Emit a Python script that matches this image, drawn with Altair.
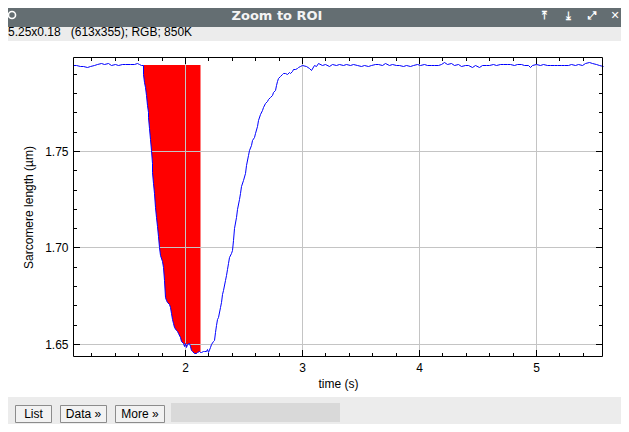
import altair as alt
import pandas as pd

# ---------------- data ----------------
pre_t = [1.043, 1.07, 1.10, 1.13, 1.16, 1.19, 1.22, 1.25, 1.28, 1.31, 1.34, 1.37,
         1.40, 1.43, 1.46, 1.49, 1.53, 1.56, 1.59, 1.61, 1.625]
pre_y = [1.7943, 1.7945, 1.7941, 1.7938, 1.7934, 1.7939, 1.7946, 1.7951, 1.7955, 1.7952,
         1.7954, 1.7948, 1.7950, 1.7945, 1.7952, 1.7949, 1.7953, 1.7950, 1.7954, 1.7951, 1.7948]

dip_t = [1.638, 1.645, 1.652, 1.658, 1.666, 1.672, 1.680, 1.686, 1.693, 1.700, 1.707,
         1.715, 1.722, 1.729, 1.737, 1.744, 1.752, 1.760, 1.768, 1.780, 1.790, 1.800,
         1.809, 1.818, 1.826, 1.835, 1.850, 1.865, 1.872, 1.880, 1.888, 1.895, 1.905,
         1.920, 1.932, 1.943, 1.955, 1.968, 1.980, 1.990, 2.000, 2.009, 2.020, 2.030,
         2.040, 2.050, 2.060, 2.075, 2.090, 2.105, 2.120, 2.128, 2.135, 2.150, 2.165,
         2.180, 2.190, 2.200, 2.214, 2.225, 2.236, 2.248, 2.258, 2.268, 2.277, 2.285,
         2.295, 2.305, 2.316, 2.327, 2.338, 2.350, 2.360, 2.370, 2.380, 2.390, 2.399,
         2.410, 2.422, 2.436, 2.447, 2.458, 2.470, 2.481, 2.497, 2.513, 2.525, 2.537,
         2.550, 2.562, 2.575, 2.586, 2.598, 2.612, 2.627, 2.642, 2.656, 2.670, 2.685,
         2.700, 2.713, 2.726, 2.740, 2.755, 2.769, 2.780, 2.790, 2.798, 2.810, 2.825,
         2.840, 2.855, 2.870, 2.885, 2.897, 2.912, 2.925, 2.940, 2.955, 2.970, 2.985, 2.997]
dip_y = [1.7946, 1.7900, 1.7855, 1.7833, 1.7790, 1.7740, 1.7700, 1.7678, 1.7620, 1.7560, 1.7505,
         1.7440, 1.7390, 1.7333, 1.7280, 1.7210, 1.7160, 1.7110, 1.7060, 1.7004, 1.6960, 1.6930,
         1.6900, 1.6830, 1.6745, 1.6730, 1.6715, 1.6705, 1.6693, 1.6660, 1.6630, 1.6607, 1.6590,
         1.6575, 1.6565, 1.6555, 1.6535, 1.6515, 1.6503, 1.6490, 1.6505, 1.6486, 1.6500, 1.6505,
         1.6490, 1.6470, 1.6465, 1.6455, 1.6452, 1.6458, 1.6462, 1.6460, 1.6460, 1.6464, 1.6462,
         1.6465, 1.6475, 1.6460, 1.6486, 1.6500, 1.6515, 1.6520, 1.6560, 1.6600, 1.6630, 1.6640,
         1.6690, 1.6720, 1.6760, 1.6780, 1.6830, 1.6860, 1.6890, 1.6918, 1.6950, 1.6970, 1.6987,
         1.7040, 1.7100, 1.7160, 1.7200, 1.7250, 1.7280, 1.7320, 1.7350, 1.7384, 1.7430, 1.7480,
         1.7505, 1.7530, 1.7555, 1.7575, 1.7592, 1.7630, 1.7660, 1.7690, 1.7710, 1.7730, 1.7750,
         1.7760, 1.7770, 1.7781, 1.7790, 1.7805, 1.7816, 1.7840, 1.7865, 1.7877, 1.7890, 1.7900,
         1.7906, 1.7902, 1.7898, 1.7910, 1.7903, 1.7915, 1.7925, 1.7923, 1.7930, 1.7935, 1.7938, 1.7945]

post_t = [3.03, 3.06, 3.08, 3.10, 3.12, 3.14, 3.17, 3.20, 3.23, 3.26, 3.29, 3.32, 3.35,
          3.38, 3.41, 3.44, 3.47, 3.50, 3.53, 3.56, 3.59, 3.62, 3.65, 3.68, 3.71, 3.74,
          3.77, 3.80, 3.83, 3.86, 3.89, 3.92, 3.95, 3.98, 4.01, 4.04, 4.07, 4.10, 4.13,
          4.16, 4.19, 4.21, 4.24, 4.27, 4.30, 4.33, 4.36, 4.39, 4.42, 4.45, 4.48, 4.51,
          4.54, 4.57, 4.60, 4.63, 4.66, 4.69, 4.72, 4.75, 4.78, 4.81, 4.84, 4.87, 4.90,
          4.93, 4.95, 4.97, 5.00, 5.03, 5.06, 5.09, 5.12, 5.15, 5.18, 5.21, 5.24, 5.27,
          5.30, 5.33, 5.36, 5.39, 5.42, 5.45, 5.48, 5.51, 5.54, 5.57]
post_y = [1.7938, 1.7930, 1.7921, 1.7947, 1.7940, 1.7957, 1.7944, 1.7952, 1.7940, 1.7950,
          1.7946, 1.7953, 1.7944, 1.7949, 1.7947, 1.7950, 1.7948, 1.7942, 1.7946, 1.7940,
          1.7947, 1.7950, 1.7952, 1.7944, 1.7955, 1.7947, 1.7949, 1.7943, 1.7946, 1.7941,
          1.7945, 1.7939, 1.7946, 1.7951, 1.7947, 1.7950, 1.7944, 1.7948, 1.7943, 1.7947,
          1.7952, 1.7962, 1.7953, 1.7955, 1.7946, 1.7950, 1.7942, 1.7947, 1.7944, 1.7937,
          1.7946, 1.7935, 1.7945, 1.7948, 1.7944, 1.7950, 1.7946, 1.7952, 1.7949, 1.7953,
          1.7950, 1.7948, 1.7952, 1.7950, 1.7944, 1.7946, 1.7934, 1.7948, 1.7951, 1.7947,
          1.7949, 1.7946, 1.7947, 1.7945, 1.7946, 1.7944, 1.7948, 1.7946, 1.7951, 1.7947,
          1.7952, 1.7948, 1.7954, 1.7960, 1.7956, 1.7950, 1.7946, 1.7940]

fill_start, fill_end, fill_base = 1.638, 2.128, 1.7946

x_major = [2, 3, 4, 5]
x_minor = [1.2, 1.4, 1.6, 1.8, 2.2, 2.4, 2.6, 2.8, 3.2, 3.4, 3.6, 3.8,
           4.2, 4.4, 4.6, 4.8, 5.2, 5.4]
y_major = [1.65, 1.70, 1.75]
y_minor = [1.66, 1.67, 1.68, 1.69, 1.71, 1.72, 1.73, 1.74, 1.76, 1.77, 1.78, 1.79]

window_title = "Zoom to ROI"
info_text = "5.25x0.18\u00a0\u00a0 (613x355); RGB; 850K"
button_labels = ["List", "Data \u00bb", "More \u00bb"]
x_title = "time (s)"
y_title = "Sarcomere length (\u00b5m)"

# ---------------- chart ----------------
W, H = 530, 300
FONT = "Liberation Sans"
xs = alt.Scale(domain=[1.0427, 5.5726], nice=False, zero=False, round=True)
ys = alt.Scale(domain=[1.64326, 1.79870], nice=False, zero=False, round=True)

axis_common = dict(grid=False, ticks=False, tickSize=0, domain=False,
                   labelFont=FONT, labelFontSize=12, labelColor="black",
                   titleFont=FONT, titleFontSize=12, titleFontWeight="normal",
                   titleColor="black")
xa = alt.Axis(values=x_major, format="d", title=x_title, labelPadding=5,
              titlePadding=5, **axis_common)
ya = alt.Axis(values=y_major, format=".2f", title=y_title, labelPadding=5,
              titlePadding=9, **axis_common)


def X():
    return alt.X("t:Q", scale=xs, axis=xa)


def Y():
    return alt.Y("L:Q", scale=ys, axis=ya)


df = pd.DataFrame({"t": pre_t + dip_t + post_t, "L": pre_y + dip_y + post_y})
one = pd.DataFrame({"k": [0]})


def box(x, x2, y, y2, **mk):
    return alt.Chart(one).mark_rect(**mk).encode(
        x=alt.value(x), x2=alt.value(x2), y=alt.value(y), y2=alt.value(y2))


def label(x, y, text, **mk):
    return alt.Chart(one).mark_text(**mk).encode(
        x=alt.value(x), y=alt.value(y), text=alt.value(text))


icon_style = dict(font="DejaVu Sans", fontWeight="bold", fontSize=11,
                  color="white", align="center", baseline="middle")

# window chrome
chrome = [
    box(-65, 548, -49, -30, color="#646e72"),
    box(-65, 548, -30, -16, color="#ececec"),
    box(-65, 548, 340, 367, color="#ececec"),
    label(204, -41, window_title, font="DejaVu Sans", fontWeight="bold",
          fontSize=13, color="#f4f4f4", align="center", baseline="middle"),
    alt.Chart(one).mark_point(shape="circle", filled=False, size=50, color="white",
                              strokeWidth=1.6, opacity=1).encode(
        x=alt.value(-61), y=alt.value(-42)),
    label(471, -41, "\u2912", **icon_style),
    label(495, -41, "\u2913", **icon_style),
    label(519, -41, "\u2922", **icon_style),
    label(542, -41, "\u2715", **icon_style),
    label(-65, -21, info_text, font=FONT, fontSize=12, color="black",
          align="left", baseline="alphabetic"),
    box(98, 267, 346, 365, color="#d9d9d9"),
]
btn_pos = [(-58, -22), (-13, 33), (42, 91)]
for (bx, bx2), txt in zip(btn_pos, button_labels):
    chrome.append(box(bx + 0.5, bx2 + 0.5, 348.5, 365.5, fill="#f2f2f2",
                      stroke="#8c8c8c", strokeWidth=1))
    chrome.append(label((bx + bx2) / 2 + 0.5, 357, txt, font=FONT, fontSize=12,
                        color="black", align="center", baseline="middle"))

# red filled region
area = alt.Chart(df).transform_filter(
    f"datum.t >= {fill_start} && datum.t <= {fill_end}"
).mark_area(color="#ff0000", opacity=1, xOffset=0.5, yOffset=0.5).encode(
    x=X(), y=Y(), y2=alt.datum(fill_base),
)

# grid
gx = alt.Chart(pd.DataFrame({"t": x_major})).mark_rule(
    color="#c4c4c4", strokeWidth=1, xOffset=0.5).encode(
    x=X(), y=alt.value(0), y2=alt.value(H))
gy = alt.Chart(pd.DataFrame({"L": y_major})).mark_rule(
    color="#c4c4c4", strokeWidth=1, yOffset=0.5).encode(
    y=Y(), x=alt.value(0), x2=alt.value(W))

# data line
line = alt.Chart(df).mark_line(color="#0000ff", strokeWidth=1,
                               xOffset=0.5, yOffset=0.5).encode(
    x=X(), y=Y(), order="t:Q",
)


# tick marks on all four sides (inward)
def vticks(vals, y, y2):
    return alt.Chart(pd.DataFrame({"t": vals})).mark_rule(
        color="black", strokeWidth=1, xOffset=0.5).encode(
        x=X(), y=alt.value(y), y2=alt.value(y2))


def hticks(vals, x, x2):
    return alt.Chart(pd.DataFrame({"L": vals})).mark_rule(
        color="black", strokeWidth=1, yOffset=0.5).encode(
        y=Y(), x=alt.value(x), x2=alt.value(x2))


ticks = [
    vticks(x_major, H, H - 7), vticks(x_minor, H, H - 4),
    vticks(x_major, 0, 7), vticks(x_minor, 0, 4),
    hticks(y_major, 0, 7), hticks(y_minor, 0, 4),
    hticks(y_major, W, W - 7), hticks(y_minor, W, W - 4),
]

frame = box(0.5, W - 0.5, 0.5, H - 0.5, fillOpacity=0, stroke="black", strokeWidth=1)

chart = alt.layer(*chrome, area, gx, gy, line, *ticks, frame).properties(
    width=W, height=H,
    padding={"left": 65, "top": 49, "right": 18, "bottom": 67},
    autosize=alt.AutoSizeParams(type="none"),
    background="white",
).configure_view(stroke="transparent")

chart.save("out.html", embed_options={"renderer": "svg", "actions": False})
